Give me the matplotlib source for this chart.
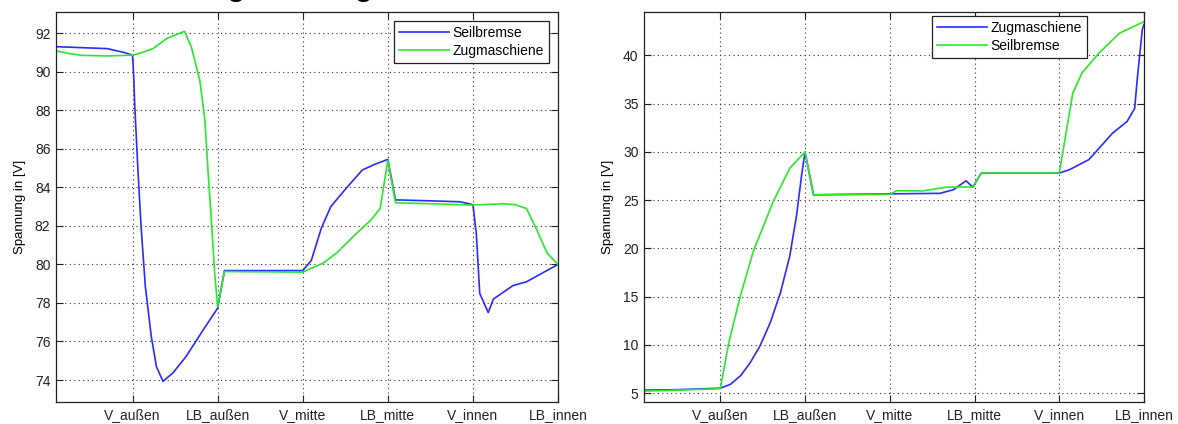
import matplotlib
matplotlib.use("Agg")
import matplotlib.pyplot as plt

plt.rcParams['font.family'] = ['Liberation Sans', 'DejaVu Sans']

# ---------------- data ----------------
tick_pos = [10, 20, 30, 40, 50, 60]
tick_labels = ['V_außen', 'LB_außen', 'V_mitte', 'LB_mitte', 'V_innen', 'LB_innen']

# left chart
left_seil_x = [1, 4, 7, 9, 10, 10.15, 10.24, 10.63, 11.0, 11.5, 12.2, 12.8, 13.57, 14.75, 16.3,
               18.3, 20, 20.8, 30, 31, 32.2, 33.3, 35.1, 37, 38.5, 40, 40.9, 45, 48.5, 50, 50.4,
               50.8, 51.8, 52.4, 54.7, 56.3, 60]
left_seil_y = [91.3, 91.25, 91.2, 91.0, 90.86, 89.6, 88.4, 84.9, 81.96, 78.85, 76.26, 74.7, 73.93,
               74.37, 75.23, 76.6, 77.73, 79.68, 79.68, 80.2, 81.9, 83.0, 83.95, 84.9, 85.2, 85.45,
               83.35, 83.3, 83.25, 83.1, 81.6, 78.5, 77.5, 78.2, 78.9, 79.1, 80.0]
left_zug_x = [1, 2.5, 4, 7, 10, 10.8, 12.4, 14, 16.1, 16.9, 17.9, 18.5, 18.86, 19.26, 19.65, 20,
              20.8, 30, 32.4, 34, 36.3, 38, 39.1, 40, 40.9, 45, 50, 53.6, 55, 56.3, 57.5, 58.7, 60]
left_zug_y = [91.08, 90.95, 90.85, 90.82, 90.86, 90.95, 91.2, 91.72, 92.1, 91.3, 89.56, 87.5, 84.9,
              82.3, 79.55, 77.8, 79.63, 79.6, 80.07, 80.6, 81.6, 82.3, 82.9, 85.4, 83.2, 83.15,
              83.08, 83.15, 83.1, 82.9, 81.8, 80.6, 80.0]

# right chart
right_zug_x = [1, 5, 10, 11.2, 12.4, 13.5, 14.7, 15.9, 17.1, 18.2, 19.0, 19.6, 20, 21, 30, 35.9,
               37.5, 39, 39.8, 40.8, 50, 51.2, 53.5, 56.3, 58, 58.9, 59.2, 59.8, 60]
right_zug_y = [5.3, 5.35, 5.5, 5.9, 6.8, 8.1, 9.9, 12.3, 15.4, 19.2, 23.4, 27.6, 30.0,
               25.55, 25.65, 25.7, 26.07, 27.0, 26.35, 27.8, 27.8, 28.15, 29.2, 31.95, 33.15,
               34.5, 37.5, 42.7, 43.2]
right_seil_x = [1, 5, 10, 11.0, 12.35, 13.9, 16.3, 18.2, 20, 21, 30, 30.8, 33.9, 36.7, 39.8, 40.8,
                50, 51.6, 52.7, 54.7, 57.1, 60]
right_seil_y = [5.2, 5.3, 5.45, 10.2, 15.0, 19.7, 24.95, 28.3, 30.0, 25.55, 25.6, 25.97, 25.95,
                26.35, 26.35, 27.8, 27.8, 36.1, 38.2, 40.25, 42.3, 43.5]

left_yticks = [74, 76, 78, 80, 82, 84, 86, 88, 90, 92]
right_yticks = [5, 10, 15, 20, 25, 30, 35, 40]

BLUE = '#2b2bff'
GREEN = '#2ae82a'

fig = plt.figure(figsize=(11.78, 4.24), dpi=100)
W, H = 1178, 424
ax1 = fig.add_axes([56 / W, 1 - 402 / H, 502 / W, 390 / H])
ax2 = fig.add_axes([644 / W, 1 - 402 / H, 500 / W, 390 / H])


def style(ax, yticks, ylim):
    ax.set_xlim(1, 60)
    ax.set_ylim(*ylim)
    ax.set_xticks(tick_pos)
    ax.set_xticklabels(tick_labels)
    ax.set_yticks(yticks)
    ax.grid(True, linestyle=(0, (1, 3)), color='#333333', linewidth=0.8)
    ax.tick_params(direction='in', length=5, width=0.8, top=True, right=True,
                   labelsize=10, pad=4, colors='#222222')
    for s in ax.spines.values():
        s.set_linewidth(0.9)
        s.set_color('#222222')
    ax.set_ylabel('Spannung in [V]', fontsize=9.5, labelpad=6)


ax1.plot(left_seil_x, left_seil_y, color=BLUE, lw=1.2, label='Seilbremse')
ax1.plot(left_zug_x, left_zug_y, color=GREEN, lw=1.2, label='Zugmaschiene')
style(ax1, left_yticks, (72.86, 93.1))
leg1 = ax1.legend(loc='upper right', bbox_to_anchor=(0.982, 0.977), fontsize=10,
                  fancybox=False, edgecolor='#222222', framealpha=1, handlelength=3.6,
                  borderpad=0.35, labelspacing=0.3, handletextpad=0.3, borderaxespad=0)
leg1.get_frame().set_linewidth(0.9)

ax2.plot(right_zug_x, right_zug_y, color=BLUE, lw=1.2, label='Zugmaschiene')
ax2.plot(right_seil_x, right_seil_y, color=GREEN, lw=1.2, label='Seilbremse')
style(ax2, right_yticks, (4.07, 44.5))
leg2 = ax2.legend(loc='upper right', bbox_to_anchor=(0.886, 0.99), fontsize=10,
                  fancybox=False, edgecolor='#222222', framealpha=1, handlelength=3.6,
                  borderpad=0.35, labelspacing=0.3, handletextpad=0.3, borderaxespad=0)
leg2.get_frame().set_linewidth(0.9)

# title (cut off at the top edge of the picture: only the descenders show)
fig.text(105 / W, 1 - 1.5 / H, 'Messung im Vergleich', fontsize=25, ha='left', va='bottom')

fig.savefig('out.png', dpi=100)
